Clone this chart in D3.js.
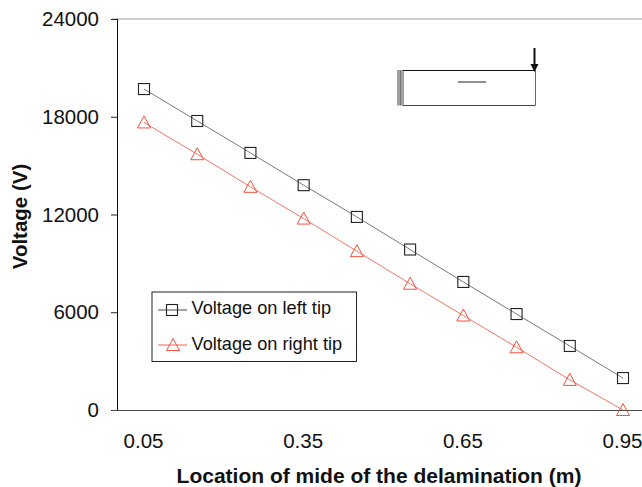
<!DOCTYPE html>
<html><head><meta charset="utf-8">
<script src="https://cdn.jsdelivr.net/npm/d3@7"></script>
<style>html,body{margin:0;padding:0;background:#fff}svg{display:block}text{font-family:"Liberation Sans",Arial,sans-serif;fill:#111}</style>
</head><body><div id="c"></div>
<script>
const locations=[0.05,0.15,0.25,0.35,0.45,0.55,0.65,0.75,0.85,0.95];
const leftTip=[19700,17740,15780,13800,11850,9850,7860,5890,3930,1960];
const rightTip=[17650,15700,13700,11750,9750,7750,5800,3850,1850,0];
const xTicks=[0.05,0.35,0.65,0.95];
const yTicks=[0,6000,12000,18000,24000];
const seriesNames=["Voltage on left tip","Voltage on right tip"];
const xTitle="Location of mide of the delamination (m)";
const yTitle="Voltage (V)";
const W=642,H=487;
const svg=d3.select("#c").append("svg").attr("width",W).attr("height",H);
const x=d3.scaleLinear().domain([0.05,0.95]).range([144,623]);
const y=d3.scaleLinear().domain([0,24000]).range([410,19]);
const plotR=W;
svg.append("line").attr("x1",112).attr("x2",plotR).attr("y1",y(24000)).attr("y2",y(24000)).attr("stroke","#bdbdbd").attr("stroke-width",1.5);
const yAxis=d3.axisLeft(y).tickValues(yTicks).tickSize(6.5).tickPadding(12).tickFormat(d3.format("d"));
const ya=svg.append("g").attr("transform","translate(117.5,0)").call(yAxis);
ya.selectAll("path").remove();
ya.selectAll("line").attr("stroke","#222");
ya.selectAll("text").style("font-size","20.5px").attr("fill","#111");
svg.append("line").attr("x1",117.5).attr("x2",117.5).attr("y1",y(24000)).attr("y2",y(0)).attr("stroke","#111");
svg.append("line").attr("x1",112).attr("x2",plotR).attr("y1",y(0)+.5).attr("y2",y(0)+.5).attr("stroke","#444").attr("stroke-width",1.2);
const xa=svg.append("g").attr("transform",`translate(-1,${y(0)})`).call(d3.axisBottom(x).tickValues(xTicks).tickSize(0).tickPadding(0).tickFormat(d3.format(".2f")));
xa.selectAll("path").remove();
xa.selectAll("text").attr("dy",null).attr("y",38).style("font-size","20.5px").attr("fill","#111");
svg.append("text").attr("x",379).attr("y",482.5).attr("text-anchor","middle").style("font-size","21px").style("font-weight","bold").text(xTitle);
svg.append("text").attr("transform","translate(27,216.5) rotate(-90)").attr("text-anchor","middle").style("font-size","20.5px").style("font-weight","bold").text(yTitle);
const line=d3.line();
const sq=(g,cx,cy,c)=>g.append("rect").attr("x",cx-5.5).attr("y",cy-5.5).attr("width",11).attr("height",11).attr("fill","none").attr("stroke",c).attr("stroke-width",1.1);
const tri=(g,cx,cy,c)=>g.append("path").attr("d",`M${cx},${cy-6.5}L${cx+6.5},${cy+5.5}L${cx-6.5},${cy+5.5}Z`).attr("fill","none").attr("stroke",c).attr("stroke-width",1);
const BL="#222",RD="#f4503c";
const g=svg.append("g");
g.append("path").attr("d",line(locations.map((d,i)=>[x(d),y(leftTip[i])]))).attr("fill","none").attr("stroke","#555").attr("stroke-width",.8);
g.append("path").attr("d",line(locations.map((d,i)=>[x(d),y(rightTip[i])]))).attr("fill","none").attr("stroke",RD).attr("stroke-width",.8);
locations.forEach((d,i)=>{sq(g,x(d),y(leftTip[i]),BL);tri(g,x(d),y(rightTip[i]),RD);});
const ins=svg.append("g");
ins.append("rect").attr("x",397).attr("y",70).attr("width",7).attr("height",35.5).attr("fill","#a0a0a0");
ins.append("line").attr("x1",400.5).attr("x2",400.5).attr("y1",70).attr("y2",105.5).attr("stroke","#777");
ins.append("line").attr("x1",403).attr("x2",535.5).attr("y1",70.5).attr("y2",70.5).attr("stroke","#111");
ins.append("line").attr("x1",403).attr("x2",535.5).attr("y1",105.5).attr("y2",105.5).attr("stroke","#444");
ins.append("line").attr("x1",535.5).attr("x2",535.5).attr("y1",70).attr("y2",105.5).attr("stroke","#666");
ins.append("line").attr("x1",458).attr("x2",486).attr("y1",82).attr("y2",82).attr("stroke","#222");
ins.append("line").attr("x1",534.5).attr("x2",534.5).attr("y1",48).attr("y2",66).attr("stroke","#111").attr("stroke-width",2);
ins.append("path").attr("d","M530.5,64L538.5,64L534.5,72Z").attr("fill","#111");
const lg=svg.append("g");
lg.append("rect").attr("x",152).attr("y",292).attr("width",204.5).attr("height",69.5).attr("fill","#fff").attr("stroke","#222").attr("stroke-width",1);
[310,345].forEach((ly,i)=>{
 const c=i?RD:"#333";
 lg.append("line").attr("x1",158).attr("x2",187).attr("y1",ly).attr("y2",ly).attr("stroke",c).attr("stroke-width",.9);
 if(i)tri(lg,173,ly,RD);else sq(lg,172,ly,BL);
 lg.append("text").attr("x",191.5).attr("y",[314,350][i]).style("font-size","18.2px").text(seriesNames[i]);
});
</script></body></html>
